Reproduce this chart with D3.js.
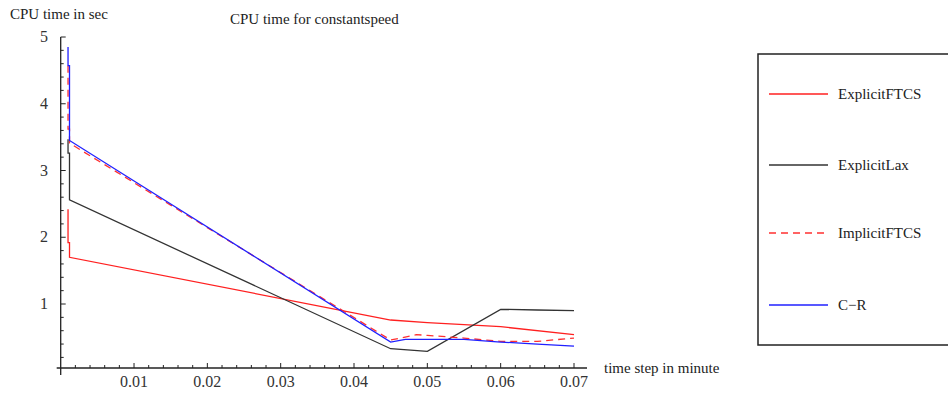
<!DOCTYPE html>
<html>
<head>
<meta charset="utf-8">
<script src="https://cdn.jsdelivr.net/npm/d3@7"></script>
<style>
  body { margin: 0; background: #fff; }
  text { font-family: "Liberation Serif", "DejaVu Serif", serif; font-size: 15px; fill: #222; }
  text.tick { font-size: 16px; fill: #333; }
</style>
</head>
<body>
<div id="chart"></div>
<script>
const [svgW, svgH] = [948, 394];

// time step (minute) and CPU time (sec)
const explicitFTCS = [
    [0.0010, 2.42], [0.0010, 1.92], [0.0012, 1.92], [0.0012, 1.70],
    [0.045, 0.76], [0.05, 0.72], [0.06, 0.66], [0.07, 0.54]
];
const explicitLax = [
    [0.0010, 3.47], [0.0010, 3.26], [0.0012, 3.26], [0.0012, 2.56],
    [0.045, 0.33], [0.05, 0.29], [0.06, 0.92], [0.065, 0.91], [0.07, 0.90]
];
const implicitFTCS = [
    [0.0010, 4.57], [0.0010, 3.62], [0.0012, 3.62], [0.0012, 3.41],
    [0.045, 0.46], [0.0485, 0.54], [0.05, 0.53], [0.055, 0.49], [0.06, 0.44], [0.065, 0.44], [0.07, 0.49]
];
const crankNicolson = [
    [0.0010, 4.85], [0.0010, 4.57], [0.0012, 4.57], [0.0012, 3.45],
    [0.045, 0.43], [0.047, 0.47], [0.05, 0.47], [0.055, 0.47], [0.06, 0.43], [0.065, 0.40], [0.07, 0.37]
];

const seriesNames = ["ExplicitFTCS", "ExplicitLax", "ImplicitFTCS", "C\u2212R"];
const seriesColors = ["#ff2020", "#333333", "#ff3030", "#2020ff"];
const seriesDash = [null, null, "7,5", null];
const seriesData = [explicitFTCS, explicitLax, implicitFTCS, crankNicolson];

const xMajor = [0.01, 0.02, 0.03, 0.04, 0.05, 0.06, 0.07];
const yMajor = [1, 2, 3, 4, 5];

const x = d3.scaleLinear().domain([0, 0.07]).range([60.7, 574]);
const y = d3.scaleLinear().domain([0, 5]).range([370.75, 37]);
const axisY = 368;   // pixel row of the time axis
const axisX = x(0);

const svg = d3.select("#chart").append("svg")
    .attr("width", svgW).attr("height", svgH);

// axes lines
svg.append("line").attr("x1", axisX - 4).attr("x2", 587).attr("y1", axisY).attr("y2", axisY)
    .attr("stroke", "#222").attr("stroke-width", 1.3);
svg.append("line").attr("x1", axisX).attr("x2", axisX).attr("y1", y(5)).attr("y2", 375)
    .attr("stroke", "#222").attr("stroke-width", 1.3);

// x ticks (major + minor every 0.002)
const xMinor = d3.range(1, 36).map(i => i * 0.002);
svg.append("g").selectAll("line").data(xMinor).join("line")
    .attr("x1", d => x(d)).attr("x2", d => x(d))
    .attr("y1", axisY)
    .attr("y2", d => xMajor.some(m => Math.abs(m - d) < 1e-9) ? axisY - 5 : axisY - 3)
    .attr("stroke", "#222").attr("stroke-width", 1);
svg.append("g").selectAll("text").data(xMajor).join("text")
    .attr("class", "tick")
    .attr("x", d => x(d)).attr("y", 387)
    .attr("text-anchor", "middle")
    .text(d => d3.format(".2f")(d));

// y ticks (major + minor every 0.2)
const yMinor = d3.range(1, 26).map(i => i * 0.2);
svg.append("g").selectAll("line").data(yMinor).join("line")
    .attr("x1", axisX)
    .attr("x2", d => yMajor.some(m => Math.abs(m - d) < 1e-9) ? axisX + 5 : axisX + 3)
    .attr("y1", d => y(d)).attr("y2", d => y(d))
    .attr("stroke", "#222").attr("stroke-width", 1);
svg.append("g").selectAll("text").data(yMajor).join("text")
    .attr("class", "tick")
    .attr("x", 48).attr("y", d => y(d) + 5)
    .attr("text-anchor", "end")
    .text(d => d);

// labels
svg.append("text").attr("x", 10).attr("y", 19).text("CPU time in sec");
svg.append("text").attr("x", 230).attr("y", 24).text("CPU time for constantspeed");
svg.append("text").attr("x", 604).attr("y", 373).text("time step in minute");

// series
const line = d3.line().x(d => x(d[0])).y(d => y(d[1]));
svg.append("g").selectAll("path").data(seriesData).join("path")
    .attr("d", line)
    .attr("fill", "none")
    .attr("stroke", (d, i) => seriesColors[i])
    .attr("stroke-width", 1.3)
    .attr("stroke-dasharray", (d, i) => seriesDash[i]);

// legend
const legend = svg.append("g");
legend.append("rect").attr("x", 758).attr("y", 54).attr("width", 220).attr("height", 291)
    .attr("fill", "none").attr("stroke", "#222").attr("stroke-width", 1.5);
const legendRows = [94, 165, 233, 305];
const items = legend.selectAll("g.item").data(seriesNames).join("g").attr("class", "item");
items.append("line")
    .attr("x1", 769).attr("x2", 828)
    .attr("y1", (d, i) => legendRows[i]).attr("y2", (d, i) => legendRows[i])
    .attr("stroke", (d, i) => seriesColors[i])
    .attr("stroke-width", 1.3)
    .attr("stroke-dasharray", (d, i) => seriesDash[i]);
items.append("text")
    .attr("x", 838).attr("y", (d, i) => legendRows[i] + 5)
    .text(d => d);
</script>
</body>
</html>
